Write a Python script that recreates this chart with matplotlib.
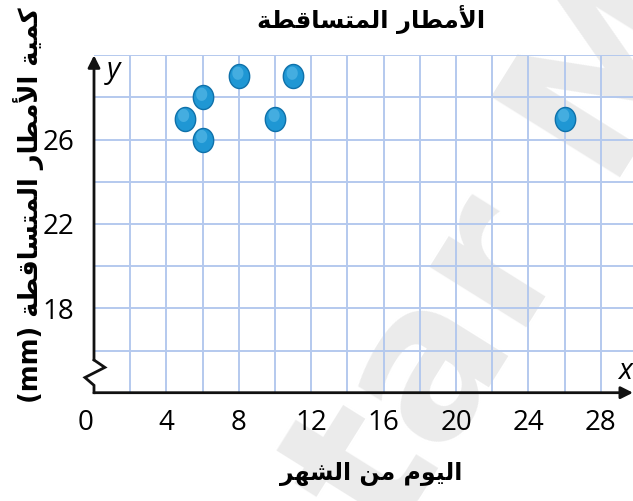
import matplotlib

matplotlib.use("Agg")
import matplotlib.pyplot as plt
from matplotlib.path import Path
from matplotlib.transforms import ScaledTranslation
import numpy as np

# data: day of month vs rainfall (mm)
days = [5, 6, 6, 8, 10, 11, 26]
rain = [27, 28, 26, 29, 27, 29, 27]

x_ticks = [0, 4, 8, 12, 16, 20, 24, 28]
y_ticks = [18, 22, 26]


def visual(s):
    # matplotlib has no bidi/shaping: glyphs are given as presentation forms
    # in logical order, then reversed for display
    return s[::-1]


AL_AMTAR = "\uFE8D\uFEF7\uFEE3\uFEC4\uFE8E\uFEAD"              # الأمطار
AL_MUTASAQITA = "\uFE8D\uFEDF\uFEE4\uFE98\uFEB4\uFE8E\uFED7\uFEC4\uFE94"  # المتساقطة

TITLE = visual(AL_AMTAR + " " + AL_MUTASAQITA)
# اليوم من الشهر
XLABEL = visual("\uFE8D\uFEDF\uFEF4\uFEEE\uFEE1 \uFEE3\uFEE6 "
                "\uFE8D\uFEDF\uFEB8\uFEEC\uFEAE")
# كمية الأمطار المتساقطة (mm)
YLABEL = "(mm) " + visual("\uFEDB\uFEE4\uFEF4\uFE94 " + AL_AMTAR + " " + AL_MUTASAQITA)

GRID = "#b4c9ee"
AR_FONT = "DejaVu Sans"
NUM_FONT = "Open Sans"

fig = plt.figure(figsize=(6.33, 5.01), dpi=100)
ax = fig.add_axes([94 / 633, 108.3 / 501, 539 / 633, 337.4 / 501])
ax.set_xlim(0, 539 / 18.1)
ax.set_ylim(14, 30)
ax.patch.set_alpha(0)

# watermark, behind everything in the axes
ax.text(0.80, 0.50, "tar M", fontsize=150, fontweight="bold", color="#ebebeb",
        rotation=58, ha="center", va="center", zorder=0, family=AR_FONT,
        transform=fig.transFigure, clip_on=False)

# grid every 2 units
for gx in range(2, 30, 2):
    ax.axvline(gx, color=GRID, lw=1.4, zorder=1)
for gy in range(16, 31, 2):
    ax.axhline(gy, color=GRID, lw=1.4, zorder=1)

for s in ax.spines.values():
    s.set_visible(False)

ax.set_xticks(x_ticks)
ax.set_yticks(y_ticks)
ax.tick_params(axis="x", length=0, labelsize=20, pad=12)
ax.tick_params(axis="y", length=0, labelsize=20, pad=14)
for lbl in ax.get_xticklabels() + ax.get_yticklabels():
    lbl.set_family(NUM_FONT)
# the "0" sits a bit left of the axis
zero = ax.get_xticklabels()[0]
zero.set_transform(zero.get_transform() + ScaledTranslation(-8 / 100, 0, fig.dpi_scale_trans))

# axes with arrows and a break on y
ax.annotate("", xy=(ax.get_xlim()[1], 14), xytext=(0, 14),
            arrowprops=dict(arrowstyle="-|>", lw=2, color="#111111",
                            mutation_scale=18, shrinkA=0, shrinkB=0),
            annotation_clip=False, zorder=4)
ax.annotate("", xy=(0, 30), xytext=(0, 15.55),
            arrowprops=dict(arrowstyle="-|>", lw=2, color="#111111",
                            mutation_scale=18, shrinkA=0, shrinkB=0),
            annotation_clip=False, zorder=4)
ax.plot([0, 0.6, -0.5, 0, 0], [15.55, 15.2, 14.72, 14.35, 14],
        color="#111111", lw=2, clip_on=False, zorder=4, solid_joinstyle="miter")

ax.text(1.1, 29.3, "y", fontsize=21, style="italic", family=NUM_FONT,
        ha="center", va="center", zorder=5)
ax.text(29.35, 15.0, "x", fontsize=21, style="italic", family=NUM_FONT,
        ha="center", va="center", zorder=5)

# points: slightly tall ellipse with a soft highlight
t = np.linspace(0, 2 * np.pi, 60)
ell = Path(np.column_stack([np.cos(t), 1.18 * np.sin(t)]))
ax.scatter(days, rain, s=300, marker=ell, color="#1f97d4", edgecolors="#0f71aa",
           linewidths=1.0, zorder=6, clip_on=False)
ax.scatter(np.array(days) - 0.05, np.array(rain) + 0.15, s=90, marker=ell,
           color="#5dbde9", edgecolors="none", alpha=0.6, zorder=7)

# titles
fig.text(371 / 633, 1 - 20 / 501, TITLE, fontsize=17.5, fontweight="bold",
         family=AR_FONT, ha="center", va="center")
fig.text(371 / 633, 1 - 474 / 501, XLABEL, fontsize=17, fontweight="bold",
         family=AR_FONT, ha="center", va="center")
fig.text(29 / 633, 1 - 205 / 501, YLABEL, fontsize=18.5, fontweight="bold",
         family=AR_FONT, ha="center", va="center", rotation=90)

fig.savefig("out.png", dpi=100)
